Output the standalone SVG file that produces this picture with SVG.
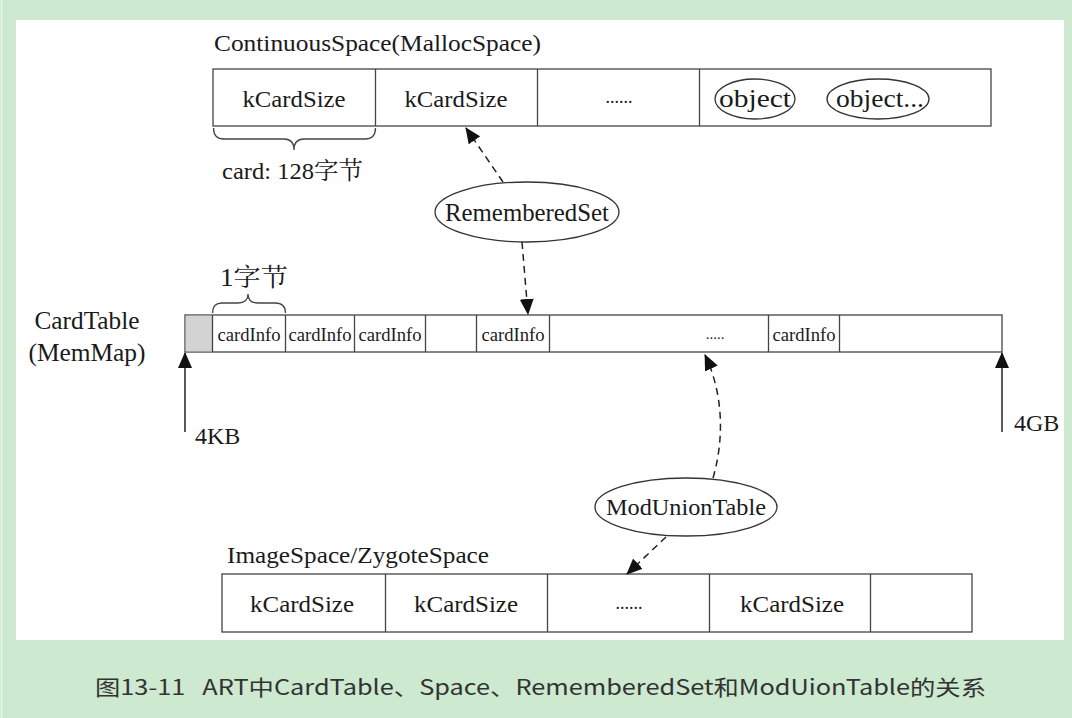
<svg xmlns="http://www.w3.org/2000/svg" width="1072" height="718" viewBox="0 0 1072 718">
<style>
.t{font-family:"Liberation Serif","Noto Serif CJK SC","Noto Sans CJK SC",serif;fill:#1a1a1a}
.box{fill:#fff;stroke:#444;stroke-width:1.3}
.ln{fill:none;stroke:#444;stroke-width:1.3}
.dash{fill:none;stroke:#222;stroke-width:1.5;stroke-dasharray:7 5}
.sol{fill:none;stroke:#222;stroke-width:1.5}
.el{fill:#fff;stroke:#333;stroke-width:1.3}
.cap{font-family:"Noto Sans CJK SC","Noto Sans",sans-serif;fill:#333;font-size:21px}
</style>
<defs>
<marker id="ah" markerWidth="16" markerHeight="14" refX="15" refY="7" orient="auto" markerUnits="userSpaceOnUse">
<path d="M0,0 L16,7 L0,14 Z" fill="#111"/>
</marker>
</defs>
<rect x="0" y="0" width="1072" height="718" fill="#cde9d0"/>
<line x1="1.5" y1="0" x2="1.5" y2="718" stroke="#e6f5e8" stroke-width="1.5"/>
<rect x="16" y="20" width="1048" height="620" fill="#fff"/>

<g id="continuous-space">
<text class="t" x="214" y="51" font-size="24" textLength="327" lengthAdjust="spacingAndGlyphs">ContinuousSpace(MallocSpace)</text>
<rect class="box" x="213" y="69" width="778" height="57"/>
<line class="ln" x1="375.5" y1="69" x2="375.5" y2="126"/>
<line class="ln" x1="537.5" y1="69" x2="537.5" y2="126"/>
<line class="ln" x1="699.5" y1="69" x2="699.5" y2="126"/>
<text class="t" x="294" y="107" font-size="24" text-anchor="middle" textLength="103" lengthAdjust="spacingAndGlyphs">kCardSize</text>
<text class="t" x="456" y="107" font-size="24" text-anchor="middle" textLength="103" lengthAdjust="spacingAndGlyphs">kCardSize</text>
<text class="t" x="619" y="103" font-size="18" text-anchor="middle">......</text>
<ellipse class="el" cx="755" cy="99" rx="40" ry="20"/>
<text class="t" x="755" y="107" font-size="25" text-anchor="middle" textLength="72" lengthAdjust="spacingAndGlyphs">object</text>
<ellipse class="el" cx="878" cy="99" rx="51" ry="20"/>
<text class="t" x="880" y="107" font-size="25" text-anchor="middle" textLength="88" lengthAdjust="spacingAndGlyphs">object...</text>
<path class="ln" d="M213.5,128 Q213.5,139 224,139 L284,139 Q294,139 294,150 Q294,139 304,139 L365,139 Q375.5,139 375.5,128"/>
<text class="t" x="222" y="179" font-size="24" textLength="141" lengthAdjust="spacingAndGlyphs">card: 128字节</text>
</g>

<g id="remembered-set">
<ellipse class="el" cx="527" cy="212" rx="92" ry="30"/>
<text class="t" x="527" y="221" font-size="25" text-anchor="middle" textLength="164" lengthAdjust="spacingAndGlyphs">RememberedSet</text>
</g>

<g id="card-table">
<text class="t" x="87" y="329" font-size="25" text-anchor="middle" textLength="105" lengthAdjust="spacingAndGlyphs">CardTable</text>
<text class="t" x="87" y="361" font-size="25" text-anchor="middle" textLength="117" lengthAdjust="spacingAndGlyphs">(MemMap)</text>
<text class="t" x="220" y="286" font-size="25" textLength="68" lengthAdjust="spacingAndGlyphs">1字节</text>
<path class="ln" d="M212.5,313 Q212.5,303 222,303 L238,303 Q248,303 248,294 Q248,303 258,303 L275,303 Q285.5,303 285.5,313"/>
<rect class="box" x="185" y="315" width="817" height="37"/>
<rect x="185.7" y="315.7" width="26.6" height="35.6" fill="#d3d3d3"/>
<line class="ln" x1="212.5" y1="315" x2="212.5" y2="352"/>
<line class="ln" x1="285.5" y1="315" x2="285.5" y2="352"/>
<line class="ln" x1="354.5" y1="315" x2="354.5" y2="352"/>
<line class="ln" x1="425.5" y1="315" x2="425.5" y2="352"/>
<line class="ln" x1="476.5" y1="315" x2="476.5" y2="352"/>
<line class="ln" x1="549.5" y1="315" x2="549.5" y2="352"/>
<line class="ln" x1="768.5" y1="315" x2="768.5" y2="352"/>
<line class="ln" x1="839.5" y1="315" x2="839.5" y2="352"/>
<text class="t" x="249" y="341" font-size="18.5" text-anchor="middle" textLength="63" lengthAdjust="spacingAndGlyphs">cardInfo</text>
<text class="t" x="320" y="341" font-size="18.5" text-anchor="middle" textLength="63" lengthAdjust="spacingAndGlyphs">cardInfo</text>
<text class="t" x="390" y="341" font-size="18.5" text-anchor="middle" textLength="63" lengthAdjust="spacingAndGlyphs">cardInfo</text>
<text class="t" x="513" y="341" font-size="18.5" text-anchor="middle" textLength="63" lengthAdjust="spacingAndGlyphs">cardInfo</text>
<text class="t" x="715" y="339" font-size="15" text-anchor="middle">.....</text>
<text class="t" x="804" y="341" font-size="18.5" text-anchor="middle" textLength="63" lengthAdjust="spacingAndGlyphs">cardInfo</text>
<text class="t" x="195" y="444" font-size="24">4KB</text>
<text class="t" x="1014" y="431" font-size="24">4GB</text>
</g>

<g id="mod-union-table">
<ellipse class="el" cx="686" cy="507" rx="91" ry="29"/>
<text class="t" x="686" y="515" font-size="24" text-anchor="middle" textLength="160" lengthAdjust="spacingAndGlyphs">ModUnionTable</text>
</g>

<g id="image-space">
<text class="t" x="227" y="563" font-size="24" textLength="262" lengthAdjust="spacingAndGlyphs">ImageSpace/ZygoteSpace</text>
<rect class="box" x="222" y="574" width="750" height="58"/>
<line class="ln" x1="385.5" y1="574" x2="385.5" y2="632"/>
<line class="ln" x1="547.5" y1="574" x2="547.5" y2="632"/>
<line class="ln" x1="709.5" y1="574" x2="709.5" y2="632"/>
<line class="ln" x1="870.5" y1="574" x2="870.5" y2="632"/>
<text class="t" x="302" y="612" font-size="24" text-anchor="middle" textLength="104" lengthAdjust="spacingAndGlyphs">kCardSize</text>
<text class="t" x="466" y="612" font-size="24" text-anchor="middle" textLength="104" lengthAdjust="spacingAndGlyphs">kCardSize</text>
<text class="t" x="629" y="609" font-size="18" text-anchor="middle">......</text>
<text class="t" x="792" y="612" font-size="24" text-anchor="middle" textLength="104" lengthAdjust="spacingAndGlyphs">kCardSize</text>
</g>

<g id="connectors">
<line class="dash" x1="503" y1="182" x2="466" y2="128" marker-end="url(#ah)"/>
<line class="dash" x1="522" y1="242" x2="528" y2="314" marker-end="url(#ah)"/>
<path class="dash" d="M713,478 C724,440 724,395 705,355" marker-end="url(#ah)"/>
<line class="dash" x1="666" y1="537" x2="627" y2="574" marker-end="url(#ah)"/>
<line class="sol" x1="185" y1="432" x2="185" y2="353" marker-end="url(#ah)"/>
<line class="sol" x1="1002" y1="432" x2="1002" y2="353" marker-end="url(#ah)"/>
</g>

<text class="cap" x="95" y="695" textLength="891" lengthAdjust="spacingAndGlyphs" xml:space="preserve">图13-11   ART中CardTable、Space、RememberedSet和ModUionTable的关系</text>
</svg>
